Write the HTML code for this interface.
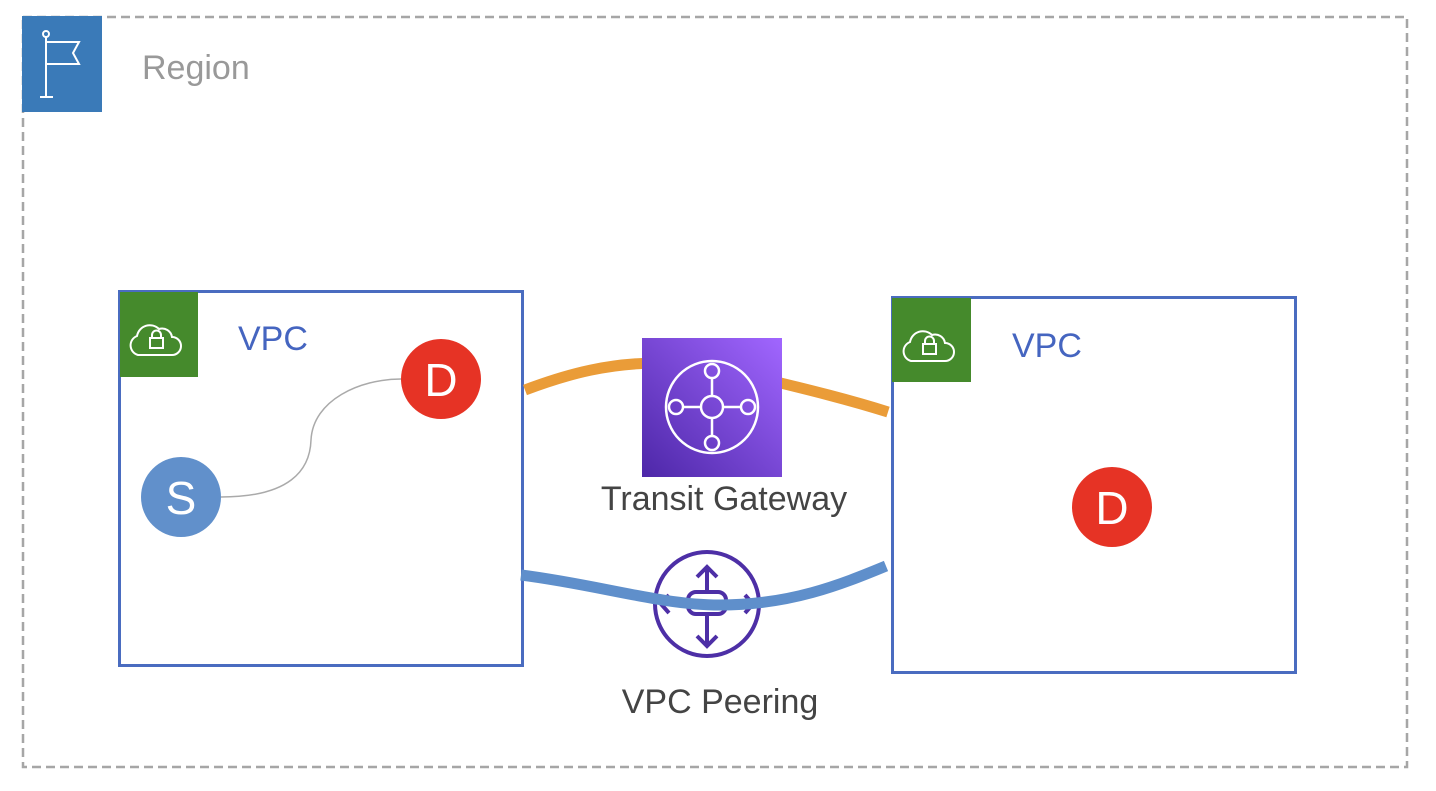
<!DOCTYPE html>
<html><head><style>
body{margin:0;width:1436px;height:786px;background:#fff;overflow:hidden;font-family:"Liberation Sans",sans-serif}
</style></head><body>
<svg width="1436" height="786" viewBox="0 0 1436 786" xmlns="http://www.w3.org/2000/svg">
<defs><linearGradient id="g" x1="0" y1="1" x2="1" y2="0"><stop offset="0" stop-color="#4d27a8"/><stop offset="1" stop-color="#a166ff"/></linearGradient></defs>
<rect x="23" y="17" width="1384" height="750" fill="none" stroke="#a6a6a6" stroke-width="2.5" stroke-dasharray="9,5"/>
<rect x="22" y="16" width="80" height="96" fill="#3a7ab8"/>
<g stroke="#fff" stroke-width="2" fill="none"><line x1="46" y1="37" x2="46" y2="97"/><line x1="40" y1="97" x2="53" y2="97"/><circle cx="46" cy="34" r="3"/><path d="M46 42 H79 L73 53 L79 64 H46"/></g>
<text x="142" y="79" font-size="34" fill="#999">Region</text>

<rect x="119.5" y="291.5" width="403" height="374" fill="#fff" stroke="#4a6cc0" stroke-width="3"/>
<rect x="120" y="292" width="78" height="85" fill="#458a2c"/>
<g stroke="#fff" stroke-width="2" fill="none"><path d="M138 355 h34 a9 9 0 0 0 0 -18 a10 10 0 0 0 -13 -8 a13 13 0 0 0 -22 7 a10 10 0 0 0 1 19 z"/><rect x="150" y="338" width="13" height="10"/><path d="M152 338 v-3 a4.5 4.5 0 0 1 9 0 v3"/></g>
<text x="238" y="350" font-size="34" fill="#4565c0">VPC</text>
<path d="M221 497 C290 497 310 470 311 440 C313 400 360 379 401 379" fill="none" stroke="#aaa" stroke-width="1.5"/>
<circle cx="441" cy="379" r="40" fill="#e63325"/><text x="441" y="396" font-size="46" fill="#fff" text-anchor="middle">D</text>
<circle cx="181" cy="497" r="40" fill="#6190cb"/><text x="181" y="514" font-size="46" fill="#fff" text-anchor="middle">S</text>

<rect x="892.5" y="297.5" width="403" height="375" fill="#fff" stroke="#4a6cc0" stroke-width="3"/>
<rect x="892" y="298" width="79" height="84" fill="#458a2c"/>
<g stroke="#fff" stroke-width="2" fill="none" transform="translate(773,6)"><path d="M138 355 h34 a9 9 0 0 0 0 -18 a10 10 0 0 0 -13 -8 a13 13 0 0 0 -22 7 a10 10 0 0 0 1 19 z"/><rect x="150" y="338" width="13" height="10"/><path d="M152 338 v-3 a4.5 4.5 0 0 1 9 0 v3"/></g>
<text x="1012" y="357" font-size="34" fill="#4565c0">VPC</text>
<circle cx="1112" cy="507" r="40" fill="#e63325"/><text x="1112" y="524" font-size="46" fill="#fff" text-anchor="middle">D</text>

<path d="M525 390 C570 373 610 363 660 363 M760 378 C810 390 850 400 888 412" fill="none" stroke="#ea9c38" stroke-width="11"/>
<rect x="642" y="338" width="140" height="139" fill="url(#g)"/>
<g stroke="#fff" stroke-width="2.5" fill="none"><circle cx="712" cy="407" r="46"/><circle cx="712" cy="407" r="11"/><circle cx="712" cy="371" r="7"/><circle cx="712" cy="443" r="7"/><circle cx="676" cy="407" r="7"/><circle cx="748" cy="407" r="7"/><path d="M712 378 V396 M712 418 V436 M683 407 H701 M723 407 H741"/></g>
<text x="724" y="510" font-size="34" fill="#444" text-anchor="middle">Transit Gateway</text>

<g stroke="#4d2fa6" stroke-width="4" fill="none"><circle cx="707" cy="604" r="52"/><path d="M707 567 V591 M697 577 L707 567 L717 577 M707 615 V645 M697 636 L707 646 L717 636 M669 595 L661 604 L669 613 M745 595 L753 604 L745 613"/><rect x="688" y="592" width="38" height="22" rx="8"/></g>
<path d="M521 575 C600 585 660 605 720 605 C790 605 840 585 886 566" fill="none" stroke="#5f8fcb" stroke-width="11"/>
<text x="720" y="713" font-size="34" fill="#444" text-anchor="middle">VPC Peering</text>
</svg>
</body></html>
